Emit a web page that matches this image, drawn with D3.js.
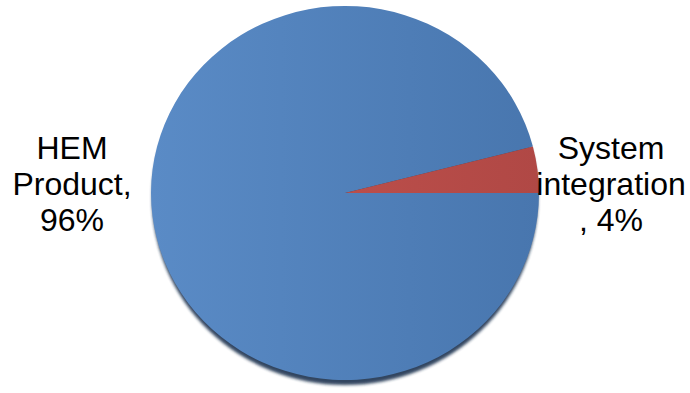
<!DOCTYPE html>
<html>
<head>
<meta charset="utf-8">
<script src="https://cdn.jsdelivr.net/npm/d3@7"></script>
<style>
html,body{margin:0;padding:0;background:#fff;}
svg{display:block;}
</style>
</head>
<body>
<svg id="chart" width="690" height="393"></svg>
<script>
const categories = ["HEM Product", "System integration"];
const values = [96, 4];
const labelLines = [["HEM", "Product,", "96%"], ["System", "integration", ", 4%"]];
const colorsLight = ["#5a8bc6", "#c6544f"];
const colorsDark = ["#4876ae", "#b04845"];

const svg = d3.select("#chart");
const cx = 345, cy = 193, rx = 194, ry = 187;

const defs = svg.append("defs");
categories.forEach((c, i) => {
  const g = defs.append("linearGradient").attr("id", "grad" + i)
    .attr("gradientUnits", "userSpaceOnUse")
    .attr("x1", -ry).attr("y1", 0).attr("x2", ry).attr("y2", 0);
  g.append("stop").attr("offset", "0%").attr("stop-color", colorsLight[i]);
  g.append("stop").attr("offset", "100%").attr("stop-color", colorsDark[i]);
});
const blur = defs.append("filter").attr("id", "blur").attr("x", "-10%").attr("y", "-10%").attr("width", "120%").attr("height", "120%");
blur.append("feGaussianBlur").attr("stdDeviation", 1.6);

// shadow
svg.append("ellipse")
  .attr("cx", cx).attr("cy", cy + 5).attr("rx", rx - 1).attr("ry", ry)
  .attr("fill", "#1b3150").attr("opacity", 0.9).attr("filter", "url(#blur)");

const pie = d3.pie().sort(null).startAngle(Math.PI / 2).endAngle(Math.PI / 2 + 2 * Math.PI).value(d => d);
const arcs = pie(values);
const arc = d3.arc().innerRadius(0).outerRadius(ry);

const g = svg.append("g").attr("transform", `translate(${cx},${cy}) scale(${rx / ry},1)`);
g.selectAll("path").data(arcs).enter().append("path")
  .attr("d", arc)
  .attr("fill", (d, i) => `url(#grad${i})`);

const labelPos = [[72, 159], [611, 159]];
const lineH = 36;
labelLines.forEach((lines, i) => {
  const t = svg.append("text")
    .attr("x", labelPos[i][0]).attr("y", labelPos[i][1])
    .attr("text-anchor", "middle")
    .attr("font-family", "Liberation Sans, Arial, sans-serif")
    .attr("font-size", 32)
    .attr("fill", "#000");
  lines.forEach((l, j) => {
    t.append("tspan").attr("x", labelPos[i][0]).attr("y", labelPos[i][1] + j * lineH).text(l);
  });
});
</script>
</body>
</html>
